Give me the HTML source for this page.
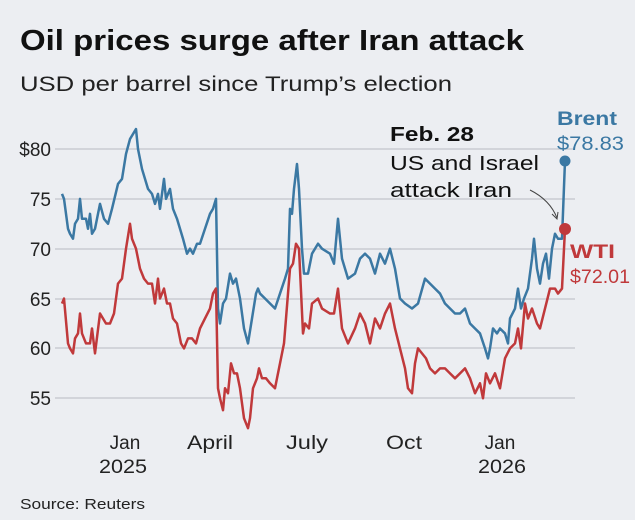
<!DOCTYPE html>
<html><head><meta charset="utf-8"><style>
body{margin:0;background:#eceef2;}
svg{display:block;font-family:"Liberation Sans",sans-serif;}
</style></head><body>
<svg width="635" height="520" viewBox="0 0 635 520">
<rect width="635" height="520" fill="#eceef2"/>
<text x="20" y="50" font-size="29" font-weight="bold" fill="#111" textLength="504" lengthAdjust="spacingAndGlyphs">Oil prices surge after Iran attack</text>
<text x="20" y="91" font-size="21" fill="#222" textLength="432" lengthAdjust="spacingAndGlyphs">USD per barrel since Trump’s election</text>
<g stroke="#c9ccd2" stroke-width="1.5">
<line x1="55" x2="575" y1="149" y2="149"/><line x1="55" x2="575" y1="199" y2="199"/>
<line x1="55" x2="575" y1="249" y2="249"/><line x1="55" x2="575" y1="299" y2="299"/>
<line x1="55" x2="575" y1="348" y2="348"/><line x1="55" x2="575" y1="398" y2="398"/>
</g>
<g font-size="19" fill="#222" text-anchor="end">
<text x="51" y="156">$80</text><text x="51" y="206">75</text><text x="51" y="256">70</text>
<text x="51" y="306">65</text><text x="51" y="355">60</text><text x="51" y="405">55</text>
</g>
<g font-size="19" fill="#222" text-anchor="middle">
<text x="125" y="449">Jan</text><text x="123" y="473" textLength="48" lengthAdjust="spacingAndGlyphs">2025</text>
<text x="210" y="449" textLength="46" lengthAdjust="spacingAndGlyphs">April</text><text x="307" y="449" textLength="42" lengthAdjust="spacingAndGlyphs">July</text><text x="404" y="449" textLength="36" lengthAdjust="spacingAndGlyphs">Oct</text>
<text x="500" y="449">Jan</text><text x="502" y="473" textLength="48" lengthAdjust="spacingAndGlyphs">2026</text>
</g>
<text x="20" y="509" font-size="15" fill="#222" textLength="125" lengthAdjust="spacingAndGlyphs">Source: Reuters</text>
<g transform="translate(0,149) scale(1,-9.97) translate(0,-80)" fill="none" stroke-linejoin="round">
<polyline vector-effect="non-scaling-stroke" stroke="#3b78a3" stroke-width="2.5" points="62,75.5 64,75 68,72 70,71.5 73,71 75,72.5 78,73 80,75 82,73 86,73 88,72 90,73.5 92,71.5 95,72 100,74.5 104,73 108,72.5 112,74 118,76.5 122,77 126,79.5 130,81 136,82 138,80 142,78 148,76 152,75.5 155,74.5 158,75.5 160,74 164,77 166,75 170,76 173,74 177,73 180,72 183,71 187,69.5 190,70 193,69.5 197,70.5 200,70.5 205,72 210,73.5 213,74 216,75 218,64 220,62.5 223,64.5 226,65 230,67.5 233,66.5 236,67 240,65 244,62 248,60.5 252,63 256,65.5 258,66 260,65.5 265,65 270,64.5 275,64 280,65.5 285,67 288,68 290,74 292,73.5 294,76 297,78.5 299,76 302,70 304,67.5 308,67.5 312,69.5 318,70.5 322,70 330,69.5 334,68.5 338,73 342,69 348,67 355,67.5 360,69 365,69.5 370,69 375,67.5 380,69.5 385,68.5 390,70 395,68 400,65 405,64.5 412,64 418,64.5 425,67 430,66.5 435,66 440,65.5 445,64.5 450,64 455,63.5 460,63.5 465,64 470,62.5 475,62 480,61.5 485,60 488,59 490,60 493,62 497,61.5 500,62 505,61.5 508,60.5 510,63 515,64 518,66 521,64 524,65 528,66 532,69 534,71 537,68 540,66.5 543,68.5 546,69.5 549,67 552,70 555,71.5 558,71 562,71 565,78.83"/>
<polyline vector-effect="non-scaling-stroke" stroke="#c0393b" stroke-width="2.5" points="62,64.5 64,65 68,60.5 70,60 73,59.5 75,61 78,61.5 80,63.5 82,61.5 86,60.5 90,60.5 92,62 95,59.5 100,63.5 106,62.5 110,62.5 114,63.5 118,66.5 122,67 126,70 130,72.5 132,71 136,70 140,68 144,67 148,66.5 152,66.5 155,64.5 158,67 160,65 164,66 167,64.5 170,64.5 173,63 177,62.5 181,60.5 184,60 188,61 192,61 196,60.5 200,62 205,63 210,64 213,65.5 216,66 218,56 220,55 223,53.8 225,56 228,55.5 231,58.5 234,57.5 237,57.5 240,56 244,53 248,52 250,53 253,56 257,57 259,58 262,57 266,57 270,56.5 275,56 280,58.5 284,60.5 286,63 290,68 293,68.5 296,70.5 299,70 303,61.5 305,62.5 309,62 312,64.5 318,65 322,64 330,63.5 334,63.5 338,66 342,62 348,60.5 355,62 360,63.5 365,62.5 370,60.5 375,63 380,62 385,63.5 390,64.5 395,62 400,60 405,58 408,56 412,55.5 415,58.5 418,60 422,59.5 426,59 430,58 435,57.5 440,58 445,58 450,57.5 455,57 460,57.5 465,58 470,57 475,55.5 480,56.5 483,55 486,57.5 490,56.5 495,57.5 500,56 505,59 510,60 515,60.5 518,62 521,60 525,64.5 528,63 532,64 537,62.5 540,62 545,64 550,66 555,66 558,65.5 562,66 565,72.01"/>
</g>
<circle cx="565" cy="161" r="5.5" fill="#3b78a3"/>
<circle cx="565" cy="229" r="6" fill="#c0393b"/>
<text x="557" y="125" font-size="19" font-weight="bold" fill="#3b78a3" textLength="60" lengthAdjust="spacingAndGlyphs">Brent</text>
<text x="557" y="150" font-size="19" fill="#3b78a3" textLength="67" lengthAdjust="spacingAndGlyphs">$78.83</text>
<text x="570" y="258" font-size="19" font-weight="bold" fill="#c0393b" textLength="45" lengthAdjust="spacingAndGlyphs">WTI</text>
<text x="570" y="283" font-size="19" fill="#c0393b" textLength="60" lengthAdjust="spacingAndGlyphs">$72.01</text>
<text x="390" y="141" font-size="20" font-weight="bold" fill="#111" textLength="84" lengthAdjust="spacingAndGlyphs">Feb. 28</text>
<text x="390" y="170" font-size="20" fill="#111" textLength="149" lengthAdjust="spacingAndGlyphs">US and Israel</text>
<text x="390" y="197" font-size="20" fill="#111" textLength="122" lengthAdjust="spacingAndGlyphs">attack Iran</text>
<path d="M530,190 Q550,200 557,218" fill="none" stroke="#444" stroke-width="1"/>
<path d="M552,214 L557,219 L558,212" fill="none" stroke="#444" stroke-width="1"/>
</svg>
</body></html>
